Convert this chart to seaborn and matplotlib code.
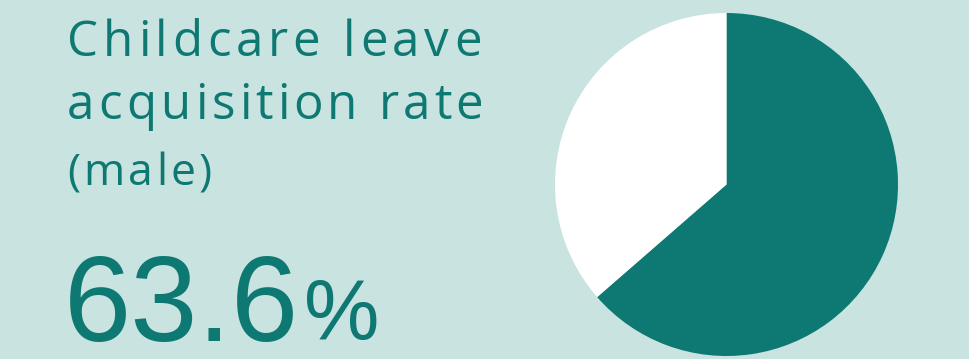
import matplotlib
matplotlib.use("Agg")
import matplotlib.pyplot as plt
import seaborn as sns
from matplotlib.font_manager import FontProperties, findfont, get_font
from matplotlib.ft2font import LoadFlags

# ---- data ----
labels = ["Acquired", "Not acquired"]
values = [63.6, 36.4]
title_lines = ["Childcare leave", "acquisition rate"]
subtitle = "(male)"
value_text = "63.6"
unit_text = "%"

BG = "#C8E3E0"
TEAL = "#0E7872"
W, H, DPI = 969, 359, 100

sns.set_theme(style="white")
plt.rcParams["font.family"] = ["Open Sans", "DejaVu Sans"]

fig = plt.figure(figsize=(W / DPI, H / DPI), dpi=DPI)
fig.patch.set_facecolor(BG)


def tracked_text(x_px, base_px, s, size_pt, family, weight, tracking_em, color):
    fp = FontProperties(family=family, size=size_pt, weight=weight)
    font = get_font(findfont(fp))
    font.set_size(size_pt, DPI)
    em_px = size_pt * DPI / 72.0
    x = x_px
    for ch in s:
        fig.text(x / W, 1 - base_px / H, ch, fontproperties=fp, color=color,
                 ha="left", va="baseline")
        g = font.load_char(ord(ch), flags=LoadFlags.NO_HINTING)
        x += g.linearHoriAdvance / 65536.0 + tracking_em * em_px


tracked_text(67, 56, title_lines[0], 35.5, "Open Sans", 500, 0.097, TEAL)
tracked_text(67, 119, title_lines[1], 35.5, "Open Sans", 500, 0.083, TEAL)
tracked_text(67, 185, subtitle, 32, "Open Sans", 500, 0.075, TEAL)

# big number
fig.text(64 / W, 1 - 341 / H, value_text, fontsize=87, family="Liberation Sans",
         color=TEAL, ha="left", va="baseline")
fig.text(304 / W, 1 - 340 / H, unit_text, fontsize=61, family="Liberation Sans",
         color=TEAL, ha="left", va="baseline")

# pie
cx, cy, r = 726.5, 184.5, 171.5
ax = fig.add_axes([(cx - r) / W, (H - cy - r) / H, 2 * r / W, 2 * r / H])
ax.set_facecolor(BG)
colors = [TEAL, "#FFFFFF"]
ax.pie(values, labels=None, colors=colors, startangle=90, counterclock=False,
       radius=1, wedgeprops=dict(linewidth=0))
ax.set_xlim(-1, 1)
ax.set_ylim(-1, 1)
ax.set_aspect("equal")
ax.axis("off")

fig.savefig("out.png", dpi=DPI, facecolor=BG)
